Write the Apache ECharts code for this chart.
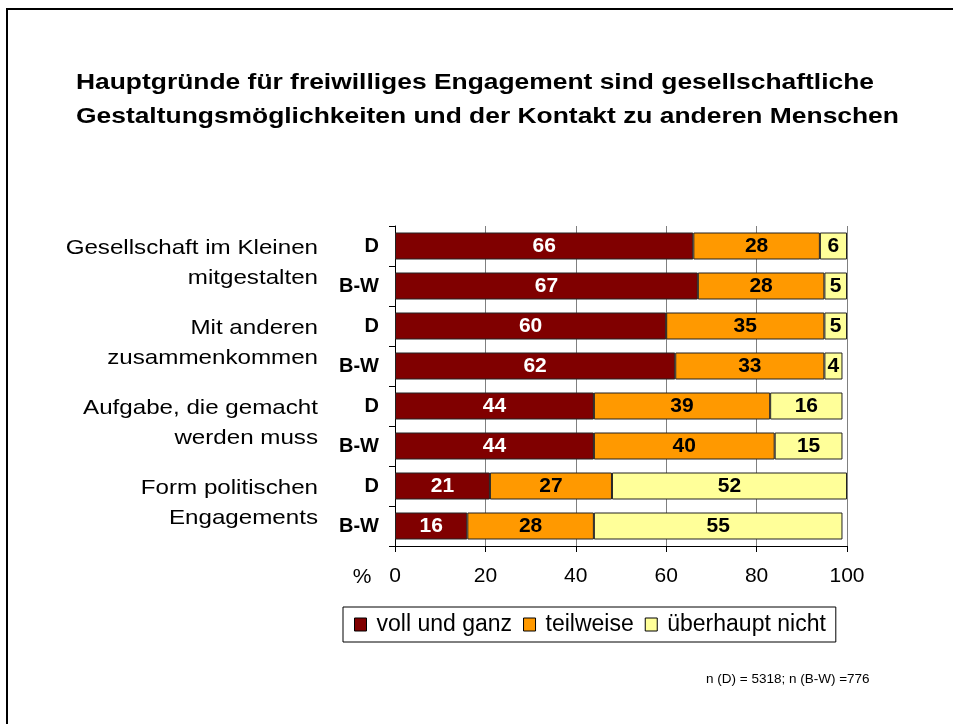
<!DOCTYPE html>
<html>
<head>
<meta charset="utf-8">
<script src="https://cdn.jsdelivr.net/npm/echarts@6/dist/echarts.min.js"></script>
<style>
html,body{margin:0;padding:0;background:#fff;}
#chart{width:953px;height:724px;}
</style>
</head>
<body>
<div id="chart"></div>
<script>
const titleLines = ['Hauptgründe für freiwilliges Engagement sind gesellschaftliche', 'Gestaltungsmöglichkeiten und der Kontakt zu anderen Menschen'];
const groupLabels = [
  ['Gesellschaft im Kleinen', 'mitgestalten'],
  ['Mit anderen', 'zusammenkommen'],
  ['Aufgabe, die gemacht', 'werden muss'],
  ['Form politischen', 'Engagements']
];
const categories = ['D', 'B-W', 'D', 'B-W', 'D', 'B-W', 'D', 'B-W'];
const seriesNames = ['voll und ganz', 'teilweise', 'überhaupt nicht'];
const vollUndGanz = [66, 67, 60, 62, 44, 44, 21, 16];
const teilweise = [28, 28, 35, 33, 39, 40, 27, 28];
const ueberhauptNicht = [6, 5, 5, 4, 16, 15, 52, 55];
const xTicks = [0, 20, 40, 60, 80, 100];
const footnote = 'n (D) = 5318; n (B-W) =776';

const FONT = '"Liberation Sans", Arial, sans-serif';
const colors = ['#800000', '#FF9900', '#FFFF99'];
const labelColors = ['#ffffff', '#000000', '#000000'];
const seriesData = [vollUndGanz, teilweise, ueberhauptNicht];

const chart = echarts.init(document.getElementById('chart'), null, {renderer: 'canvas'});

const baseGraphic = [
  {type: 'rect', shape: {x: 6, y: 8, width: 2, height: 716}, style: {fill: '#000'}, silent: true},
  {type: 'rect', shape: {x: 6, y: 8, width: 947, height: 2}, style: {fill: '#000'}, silent: true},
  {type: 'text', x: 76, y: 83, scaleX: 1.2, style: {text: titleLines[0], font: 'bold 22px ' + FONT, fill: '#000', textAlign: 'left', textVerticalAlign: 'middle'}, silent: true},
  {type: 'text', x: 76, y: 117, scaleX: 1.2, style: {text: titleLines[1], font: 'bold 22px ' + FONT, fill: '#000', textAlign: 'left', textVerticalAlign: 'middle'}, silent: true},
  {type: 'text', x: 362, y: 577, style: {text: '%', font: '21px ' + FONT, fill: '#000', textAlign: 'center', textVerticalAlign: 'middle'}, silent: true},
  {type: 'text', x: 706, y: 679, style: {text: footnote, font: '13.5px ' + FONT, fill: '#000', textAlign: 'left', textVerticalAlign: 'middle'}, silent: true}
];

const option = {
  backgroundColor: '#ffffff',
  animation: false,
  textStyle: {fontFamily: FONT},
  legend: {
    data: seriesNames,
    left: 343,
    top: 607,
    orient: 'horizontal',
    padding: [6, 10, 6, 11],
    borderColor: '#000',
    borderWidth: 1,
    itemWidth: 12,
    itemHeight: 13,
    itemGap: 11,
    icon: 'rect',
    textStyle: {fontFamily: FONT, fontSize: 23, color: '#000', padding: [0, 0, 0, 5]},
    itemStyle: {borderColor: '#000', borderWidth: 1}
  },
  grid: {left: 395, right: 106, top: 226, bottom: 178, containLabel: false},
  xAxis: {
    type: 'value',
    min: xTicks[0],
    max: xTicks[xTicks.length - 1],
    interval: xTicks[1] - xTicks[0],
    axisLine: {show: true, lineStyle: {color: '#000', width: 1}},
    axisTick: {show: true, length: 6, lineStyle: {color: '#000'}},
    axisLabel: {fontFamily: FONT, fontSize: 21, color: '#000', margin: 20},
    splitLine: {show: true, lineStyle: {color: '#808080', width: 1}}
  },
  yAxis: {
    type: 'category',
    data: categories,
    inverse: true,
    axisLine: {show: true, lineStyle: {color: '#000', width: 1}},
    axisTick: {show: true, length: 6, interval: 0, lineStyle: {color: '#000'}},
    axisLabel: {fontFamily: FONT, fontSize: 20, fontWeight: 'bold', color: '#000', margin: 16, interval: 0},
    splitLine: {show: false}
  },
  series: seriesNames.map((name, i) => ({
    name: name,
    type: 'bar',
    stack: 'total',
    data: seriesData[i],
    barWidth: 27,
    itemStyle: {color: colors[i], borderColor: '#222', borderWidth: 1},
    label: {
      show: true,
      position: 'inside',
      fontFamily: FONT,
      fontSize: 21,
      fontWeight: 'bold',
      color: labelColors[i]
    }
  })),
  graphic: baseGraphic
};

chart.setOption(option);

// group labels placed at the centre of each pair of category bands, from the axis scale
const axisX = chart.convertToPixel({xAxisIndex: 0}, 0);
const groupGraphic = [];
groupLabels.forEach((lines, g) => {
  const y1 = chart.convertToPixel({yAxisIndex: 0}, 2 * g);
  const y2 = chart.convertToPixel({yAxisIndex: 0}, 2 * g + 1);
  const cy = (y1 + y2) / 2 - 3;
  lines.forEach((line, k) => {
    groupGraphic.push({
      type: 'text',
      x: axisX - 77,
      y: cy + (k - 0.5) * 30,
      scaleX: 1.15,
      silent: true,
      style: {text: line, font: '21px ' + FONT, fill: '#000', textAlign: 'right', textVerticalAlign: 'middle'}
    });
  });
});
chart.setOption({graphic: baseGraphic.concat(groupGraphic)}, {replaceMerge: ['graphic']});
</script>
</body>
</html>
